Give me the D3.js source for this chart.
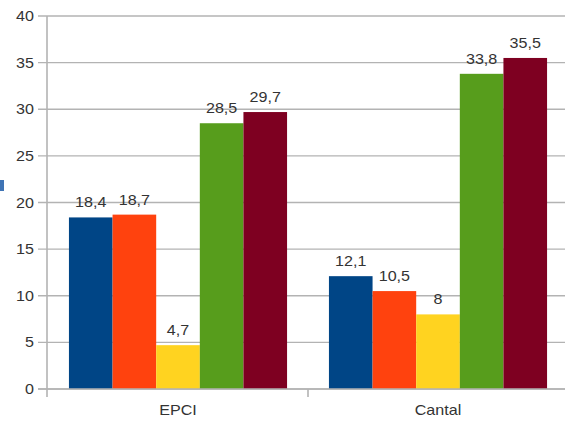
<!DOCTYPE html>
<html>
<head>
<meta charset="utf-8">
<script src="https://cdn.jsdelivr.net/npm/d3@7/dist/d3.min.js"></script>
<style>
  html, body { margin: 0; padding: 0; background: #fff; }
  svg { display: block; font-family: "Liberation Sans", Arial, sans-serif; }
</style>
</head>
<body>
<svg id="chart" width="565" height="421"></svg>
<script>
// Grouped bars: two territories, five series each
const categories = ["EPCI", "Cantal"];
const seriesKeys = ["s1", "s2", "s3", "s4", "s5"];
const seriesColors = ["#004586", "#ff420e", "#ffd320", "#579d1c", "#7e0021"];
const valuesEPCI = [18.4, 18.7, 4.7, 28.5, 29.7];
const valuesCantal = [12.1, 10.5, 8, 33.8, 35.5];
const yTicks = [0, 5, 10, 15, 20, 25, 30, 35, 40];

const rows = [valuesEPCI, valuesCantal];

const svg = d3.select("#chart");
const margin = { left: 48, top: 16, bottom: 32 };
const plotW = 520, height = 421;
const textColor = "#333";
const fontSize = 14;
const stretch = 1.15; // slightly widened glyphs

const x0 = d3.scaleBand().domain(categories).range([margin.left, margin.left + plotW]).paddingInner(0).paddingOuter(0);
const x1 = d3.scaleBand().domain(seriesKeys).range([0, x0.bandwidth()]).paddingInner(0).paddingOuter(0.48);
const y = d3.scaleLinear().domain([0, 40]).range([height - margin.bottom, margin.top]);

const gridColor = "#b3b3b3";
const fmt = v => String(v).replace(".", ",");
const place = (sel, fx, fy) => sel.attr("transform", (d, i) => `translate(${fx(d, i)},${fy(d, i)}) scale(${stretch},1)`);

// horizontal grid
svg.append("g").selectAll("line").data(yTicks).join("line")
  .attr("x1", margin.left - 10).attr("x2", margin.left + plotW)
  .attr("y1", d => y(d)).attr("y2", d => y(d))
  .attr("stroke", gridColor).attr("stroke-width", 1.4);

// y tick labels
svg.append("g").selectAll("text").data(yTicks).join("text")
  .call(place, () => 34, d => y(d))
  .attr("dy", "0.36em")
  .attr("text-anchor", "end").attr("font-size", fontSize).attr("fill", textColor)
  .text(d => d);

// bars
const groups = svg.append("g").selectAll("g").data(rows).join("g")
  .attr("transform", (d, i) => `translate(${x0(categories[i])},0)`);

groups.selectAll("rect").data(d => d).join("rect")
  .attr("x", (d, i) => x1(seriesKeys[i]))
  .attr("y", d => y(d))
  .attr("width", x1.bandwidth())
  .attr("height", d => y(0) - y(d))
  .attr("fill", (d, i) => seriesColors[i]);

groups.selectAll("text").data(d => d).join("text")
  .call(place, (d, i) => x1(seriesKeys[i]) + x1.bandwidth() / 2, d => y(d) - 10)
  .attr("text-anchor", "middle").attr("font-size", fontSize).attr("fill", textColor)
  .text(d => fmt(d));

// axes lines
svg.append("line")
  .attr("x1", margin.left - 1).attr("x2", margin.left - 1)
  .attr("y1", y(40)).attr("y2", y(0) + 8)
  .attr("stroke", gridColor).attr("stroke-width", 1.6);
svg.append("line")
  .attr("x1", margin.left - 10).attr("x2", margin.left + plotW)
  .attr("y1", y(0)).attr("y2", y(0))
  .attr("stroke", gridColor).attr("stroke-width", 1.6);

// category separators
svg.append("g").selectAll("line").data([margin.left + x0.bandwidth()]).join("line")
  .attr("x1", d => d).attr("x2", d => d)
  .attr("y1", y(0)).attr("y2", y(0) + 8)
  .attr("stroke", gridColor).attr("stroke-width", 1.6);

// category labels
svg.append("g").selectAll("text").data(categories).join("text")
  .call(place, d => x0(d) + x0.bandwidth() / 2, () => 415)
  .attr("text-anchor", "middle").attr("font-size", fontSize).attr("fill", textColor)
  .text(d => d);

// legend marker at the left edge
svg.append("rect").attr("x", 0).attr("y", 180).attr("width", 4).attr("height", 11).attr("fill", "#3f74b5");
</script>
</body>
</html>
